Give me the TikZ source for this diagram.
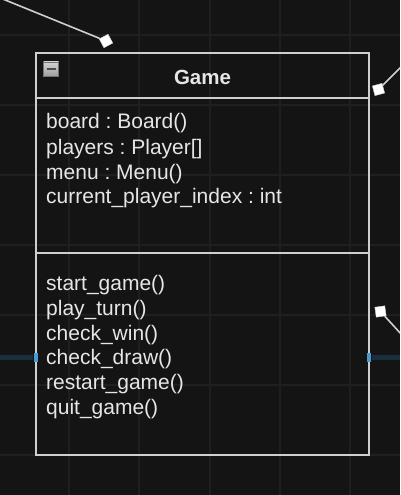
\documentclass[tikz,border=0pt]{standalone}
\usepackage{fontspec}
\setmainfont{Liberation Sans}
\frenchspacing
\definecolor{canvas}{HTML}{141414}
\definecolor{gridline}{HTML}{1F1F1F}
\definecolor{umlline}{HTML}{CFCFCF}
\definecolor{umltext}{HTML}{E6E6E6}
\definecolor{portblue}{HTML}{4A9AD0}
\definecolor{portwire}{HTML}{1A2F3C}
\begin{document}
\begin{tikzpicture}[x=1pt, y=-1pt,
    member/.style={anchor=west, inner sep=0pt, text=umltext,
      font=\fontsize{21}{24}\selectfont},
    handle/.style={draw=umlline, fill=white, minimum size=10pt, inner sep=0pt},
    port/.style={fill=portblue, minimum width=4.5pt, minimum height=9pt, inner sep=0pt}]
            \clip (0,0) rectangle (400,495);
            \fill[canvas] (0,0) rectangle (400,495);

            \foreach \gx in {69,139,210,280,350}
                \draw[gridline, line width=1.2pt] (\gx,0) -- (\gx,495);
            \foreach \gy in {35,105,175,245,315,385,455}
                \draw[gridline, line width=1.2pt] (0,\gy) -- (400,\gy);

            % wires leaving the picture
            \coordinate (wireTL) at (-12,-7);
            \coordinate (wireTR) at (412,56);
            \coordinate (wireBR) at (412,346);
            \coordinate (wireL) at (0,357);
            \coordinate (wireR) at (400,357);

            \node[handle, rotate=28] (handleTL) at (106,41) {};
            \node[handle, rotate=15] (handleTR) at (378.5,89.5) {};
            \node[handle, rotate=8] (handleBR) at (380.5,311.5) {};

            \draw[umlline, line width=1.6pt] (wireTL) -- (handleTL);
            \draw[umlline, line width=1.6pt] (wireTR) -- (handleTR);
            \draw[umlline, line width=1.6pt] (wireBR) -- (handleBR);

            \coordinate (portL) at (36,357);
            \coordinate (portR) at (369,357);
            \draw[portwire, line width=5pt] (wireL) -- ([xshift=-3pt]portL);
            \draw[portwire, line width=5pt] (wireR) -- ([xshift=3pt]portR);

            % class box
            \draw[umlline, line width=2pt] (36,53) rectangle (369,455);
            \draw[umlline, line width=2pt] (36,98) -- (369,98);
            \draw[umlline, line width=2pt] (36,253) -- (369,253);
            \node[port] at (portL) {};
            \node[port] at (portR) {};

            \node[draw=black!55, top color=gray!35, bottom color=gray!75,
                  minimum width=15pt, minimum height=14pt, inner sep=0pt] (collapse) at (51,69) {};
            \draw[black!70, line width=1.6pt] ([xshift=-4.5pt]collapse.center) -- ([xshift=4.5pt]collapse.center);

            \node[text=umltext, font=\fontsize{20.5}{24}\selectfont\bfseries] (title) at (202.5,77) {Game};

            \node[member] (board) at (46,123) {board : Board()};
            \node[member] (players) at (46,149) {players : Player[]};
            \node[member] (menu) at (46,174) {menu : Menu()};
            \node[member] (index) at (46,198) {current\_player\_index : int};

            \node[member] (start) at (46,285) {start\_game()};
            \node[member] (turn) at (46,310) {play\_turn()};
            \node[member] (win) at (46,335) {check\_win()};
            \node[member] (draw) at (46,359) {check\_draw()};
            \node[member] (restart) at (46,384) {restart\_game()};
            \node[member] (quit) at (46,409) {quit\_game()};
\end{tikzpicture}
\end{document}
